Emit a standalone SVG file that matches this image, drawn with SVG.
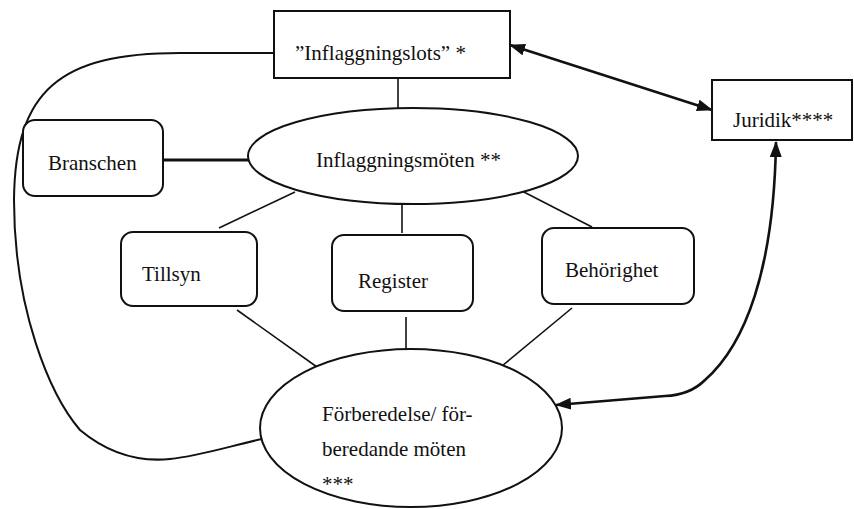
<svg xmlns="http://www.w3.org/2000/svg" width="854" height="509" viewBox="0 0 854 509">
<style>
text{font-family:"Liberation Serif","Times New Roman",serif;font-size:21px;fill:#111}
.box{fill:#fff;stroke:#111;stroke-width:2}
.ell{fill:#fff;stroke:#111;stroke-width:2}
.ln{fill:none;stroke:#111;stroke-width:1.6}
.thick{fill:none;stroke:#111;stroke-width:3}
.curve{fill:none;stroke:#111;stroke-width:2}
.arr{fill:none;stroke:#111;stroke-width:2.6}
</style>
<defs>
<marker id="ah" viewBox="0 0 16 12" refX="15" refY="6" markerWidth="16" markerHeight="12" markerUnits="userSpaceOnUse" orient="auto-start-reverse">
<path d="M0,0 L16,6 L0,12 z" fill="#111"/>
</marker>
</defs>
<rect width="854" height="509" fill="#fff"/>
<g id="connectors">
<path class="curve" d="M275,53 L180,53 C60,53 15,90 14,200 C14,310 50,395 80,430 C110,455 140,462 170,459 C200,456 230,446 262,439"/>
<line class="arr" x1="510" y1="45" x2="712" y2="110" marker-start="url(#ah)" marker-end="url(#ah)"/>
<path class="arr" d="M776,142 C774,270 745,345 705,380 Q690,395 665,396 L556,405" marker-start="url(#ah)" marker-end="url(#ah)"/>
<line class="ln" x1="398" y1="78" x2="398" y2="108"/>
<line class="thick" x1="163" y1="160" x2="249" y2="160"/>
<line class="ln" x1="295" y1="192" x2="219" y2="228"/>
<line class="ln" x1="402" y1="205" x2="402" y2="233"/>
<line class="ln" x1="520" y1="190" x2="592" y2="227"/>
<line class="ln" x1="237" y1="310" x2="317" y2="367"/>
<line class="ln" x1="406" y1="317" x2="406" y2="352"/>
<line class="ln" x1="572" y1="308" x2="502" y2="366"/>
</g>
<g id="inflaggningslots">
<rect class="box" x="274" y="11" width="236" height="67"/>
<text x="295" y="60">”Inflaggningslots” *</text>
</g>
<g id="juridik">
<rect class="box" x="712" y="80" width="140" height="60"/>
<text x="733" y="127">Juridik****</text>
</g>
<g id="branschen">
<rect class="box" x="23" y="120" width="140" height="76" rx="12"/>
<text x="48" y="170">Branschen</text>
</g>
<g id="inflaggningsmoten">
<ellipse class="ell" cx="413" cy="156" rx="165" ry="48"/>
<text x="316" y="167">Inflaggningsmöten **</text>
</g>
<g id="tillsyn">
<rect class="box" x="121" y="232" width="136" height="74" rx="12"/>
<text x="142" y="281">Tillsyn</text>
</g>
<g id="register">
<rect class="box" x="332" y="235" width="141" height="76" rx="12"/>
<text x="358" y="288">Register</text>
</g>
<g id="behorighet">
<rect class="box" x="542" y="228" width="152" height="76" rx="12"/>
<text x="565" y="277">Behörighet</text>
</g>
<g id="forberedelse">
<ellipse class="ell" cx="411" cy="428" rx="151" ry="79"/>
<text x="322" y="421">Förberedelse/ för-</text>
<text x="322" y="456">beredande möten</text>
<text x="322" y="491">***</text>
</g>
</svg>
